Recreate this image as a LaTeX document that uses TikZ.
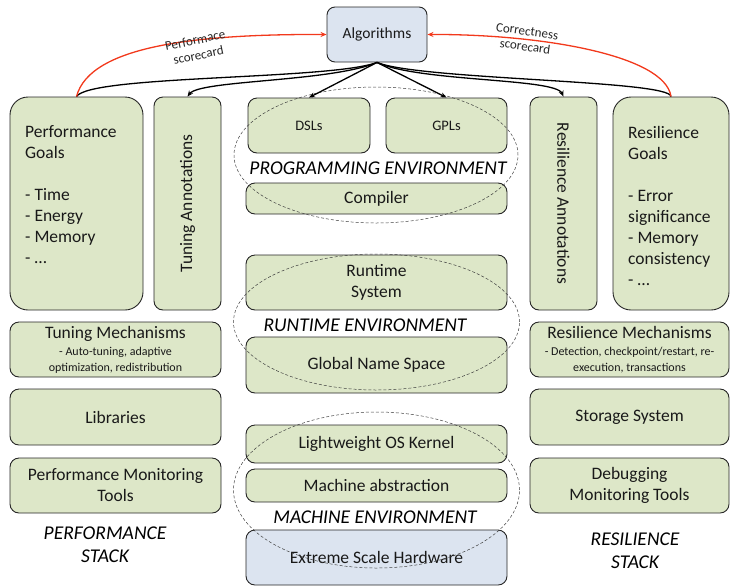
\documentclass[tikz,border=0pt]{standalone}
\usepackage{fontspec}
\setmainfont{Carlito}
\usepackage{graphicx}
\usetikzlibrary{arrows.meta}

\newcommand\boxsz{\fontsize{17.5}{21}\selectfont}
\newcommand\subsz{\fontsize{12}{15}\selectfont}

\begin{document}
\begin{tikzpicture}[x=1pt,y=-1pt,
  box/.style={draw=black!85,line width=0.9pt,fill=sage,rounded corners=9pt,
    inner sep=0pt,font=\boxsz,align=center,text=black!90},
  bigbox/.style={box,rounded corners=18pt},
  goaltext/.style={anchor=north west,inner sep=0pt,align=left,font=\boxsz,text=black!90},
  envline/.style={densely dashed,line width=0.5pt,draw=black!75},
  envlabel/.style={font=\fontsize{19.5}{23}\selectfont\itshape,inner sep=0pt},
  score/.style={draw=scorered,line width=1.3pt,-{Stealth[length=6pt,width=5pt]}},
  scorelabel/.style={font=\fontsize{13}{15.5}\selectfont,inner sep=0pt,text=black!85},
  algarrow/.style={draw=black,line width=1.3pt,-{Stealth[length=6pt,width=5pt]}},
  algline/.style={draw=black,line width=1.3pt}]
\definecolor{sage}{HTML}{DDE7C8}
\definecolor{paleblue}{HTML}{DCE4F0}
\definecolor{scorered}{HTML}{F2391C}
\useasboundingbox (0,0) rectangle (730,587);

% top
\node[box,fill=paleblue,rounded corners=8pt,minimum width=100pt,minimum height=55pt,
  font=\fontsize{15.5}{19}\selectfont] (alg) at (377,34.5) {Algorithms};

% performance stack
\node[bigbox,minimum width=133pt,minimum height=213pt] (pgoals) at (76.5,203.5) {};
\node[goaltext] (pgoalstext) at (25,125) {Performance\\Goals\\[21pt]- Time\\- Energy\\- Memory\\- \ldots};
\node[box,minimum width=67pt,minimum height=213pt] (tunann) at (187.5,203.5) {\rotatebox{90}{Tuning Annotations}};
\node[box,minimum width=211pt,minimum height=55pt] (tunmech) at (115.5,349.5)
  {Tuning Mechanisms\\[-4pt]\subsz - Auto-tuning, adaptive\\[-5pt]\subsz optimization, redistribution};
\node[box,minimum width=211pt,minimum height=56pt] (libs) at (115.5,417) {Libraries};
\node[box,minimum width=211pt,minimum height=55pt] (perfmon) at (115.5,485.5) {Performance Monitoring\\Tools};
\node[envlabel,align=center] (perfstack) at (105,545) {PERFORMANCE\\STACK};

% middle
\node[box,minimum width=122pt,minimum height=55pt,font=\fontsize{14.5}{18}\selectfont] (dsl) at (309,125.5) {DSLs};
\node[box,minimum width=121pt,minimum height=55pt,font=\fontsize{14.5}{18}\selectfont] (gpl) at (446.5,125.5) {GPLs};
\node[box,minimum width=261pt,minimum height=31pt] (compiler) at (376.5,198.5) {Compiler};
\node[box,minimum width=261pt,minimum height=55pt] (runtime) at (376.5,282.5) {Runtime\\System};
\node[box,minimum width=261pt,minimum height=56pt] (gns) at (376.5,365) {Global Name Space};
\node[box,minimum width=261pt,minimum height=38pt] (oskernel) at (376.5,444) {Lightweight OS Kernel};
\node[box,minimum width=261pt,minimum height=33pt] (machabs) at (376.5,485.5) {Machine abstraction};
\node[box,fill=paleblue,minimum width=261pt,minimum height=55pt] (hw) at (376.5,557.5) {Extreme Scale Hardware};

% resilience stack
\node[box,minimum width=67pt,minimum height=213pt] (resann) at (563.5,203.5) {\rotatebox{-90}{Resilience Annotations}};
\node[bigbox,minimum width=116pt,minimum height=213pt] (rgoals) at (671,203.5) {};
\node[goaltext] (rgoalstext) at (628,126) {Resilience\\Goals\\[21pt]- Error\\significance\\- Memory\\consistency\\- \ldots};
\node[box,minimum width=199pt,minimum height=55pt] (resmech) at (629.5,349.5)
  {Resilience Mechanisms\\[-4pt]\subsz - Detection, checkpoint/restart, re-\\[-5pt]\subsz execution, transactions};
\node[box,minimum width=199pt,minimum height=56pt] (storage) at (629.5,417) {Storage System};
\node[box,minimum width=199pt,minimum height=55pt] (debug) at (629.5,485.5) {Debugging\\Monitoring Tools};
\node[envlabel,align=center] (resstack) at (635,551) {RESILIENCE\\STACK};

% environments
\draw[envline] (376,155) ellipse [x radius=142pt,y radius=68pt];
\draw[envline] (376.5,322) ellipse [x radius=143pt,y radius=68pt];
\draw[envline] (376.5,490) ellipse [x radius=143pt,y radius=78pt];
\node[envlabel] (progenv) at (378,168) {PROGRAMMING ENVIRONMENT};
\node[envlabel] (rtenv) at (365,325) {RUNTIME ENVIRONMENT};
\node[envlabel] (machenv) at (375,517) {MACHINE ENVIRONMENT};

% algorithms to the stacks
\draw[algline] (alg.south) .. controls (330,80) and (90,75) .. (pgoals.north);
\draw[algarrow] (alg.south) .. controls (330,82) and (200,80) .. (tunann.north);
\foreach \tgt in {dsl,gpl}
  \draw[algarrow] (alg.south) -- (\tgt.north);
\draw[algarrow] (alg.south) .. controls (420,82) and (555,78) .. (resann.north);
\draw[algline] (alg.south) .. controls (420,80) and (670,80) .. (rgoals.north);

% scorecards
\draw[score] (pgoals.north) .. controls (90,45) and (200,34) .. (alg.west);
\draw[score] (rgoals.north) .. controls (665,55) and (540,34) .. (alg.east);
\node[scorelabel] (perfscore) at (197,49)
  {\rotatebox{12}{\begin{tabular}{@{}c@{}}Performace\\scorecard\end{tabular}}};
\node[scorelabel] (corrscore) at (526,40)
  {\rotatebox{-8}{\begin{tabular}{@{}c@{}}Correctness\\scorecard\end{tabular}}};
\end{tikzpicture}
\end{document}
